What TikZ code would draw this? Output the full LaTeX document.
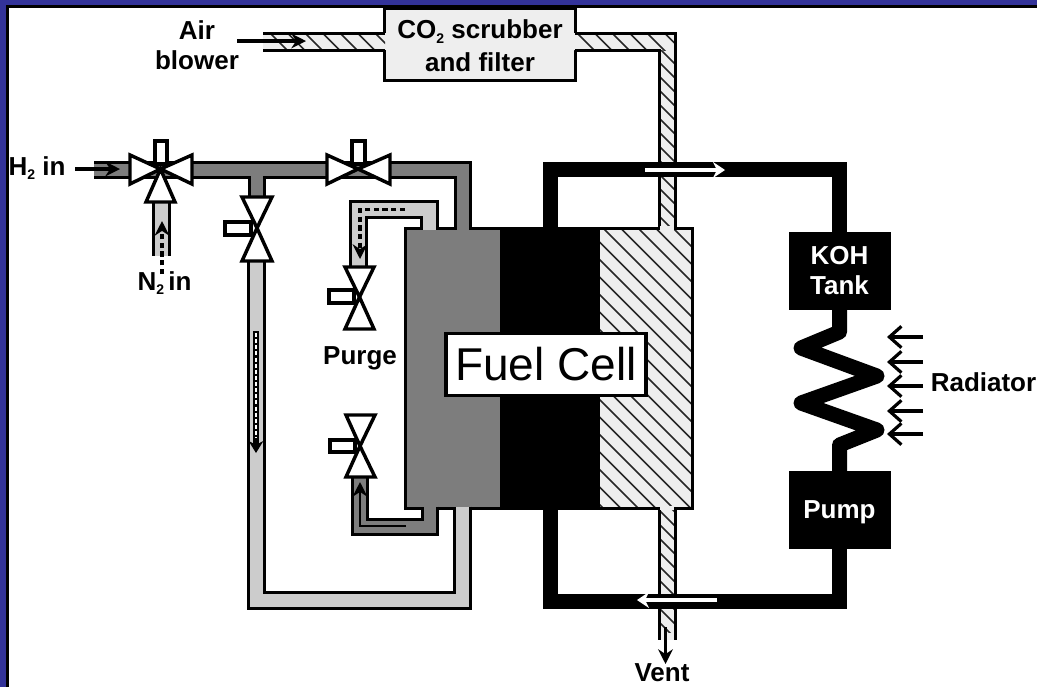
\documentclass[tikz,border=0pt]{standalone}
\usepackage{fontspec}
\setmainfont{Liberation Sans}
\usetikzlibrary{arrows.meta}
\definecolor{framecolor}{RGB}{51,51,153}
\definecolor{anodegray}{RGB}{125,125,125}
\definecolor{returngray}{RGB}{204,204,204}
\definecolor{hatchgray}{RGB}{238,238,238}
\newcommand{\subtwo}{\raisebox{-3.2pt}{\fontsize{10.5}{12}\selectfont 2}}
\tikzset{every picture/.style={line width=0.75pt},
  wall/.style={draw=black,line width=2.25pt},
  anodepipe/.style={wall,double=anodegray,double distance=9pt},
  returnpipe/.style={wall,double=returngray,double distance=9.75pt},
  koh/.style={draw=black,line width=11.25pt},
  valvepart/.style={draw=black,fill=white,line width=2.6pt,line join=miter},
  hatchline/.style={draw=black!85,line width=1.1pt},
  labeltext/.style={inner sep=0.75pt,align=center,font=\fontsize{19.5}{22.5}\selectfont\bfseries},
  kohbox/.style={fill=black,text=white,outer sep=0pt,minimum width=76.5pt,minimum height=58.5pt,inner sep=0pt,align=center,font=\fontsize{19.5}{22.5}\selectfont\bfseries},
  flow/.style={draw=black,line width=2.8pt,-{Stealth[length=11pt,width=11pt]}},
  dashflow/.style={flow,dash pattern=on 4pt off 2.5pt},
  whiteflow/.style={draw=white,line width=3.2pt,-{Stealth[length=9pt,width=12pt]}},
  airflow/.style={draw=black,line width=2.4pt,-{Straight Barb[length=9pt,width=16pt,line width=2.4pt]}}}
\begin{document}
\begin{tikzpicture}[x=0.75pt,y=0.75pt,yscale=-1,xscale=1]
\useasboundingbox (0,0) rectangle (1037,687);

%Shape: Frame
\fill [framecolor] (0,0) rectangle (1037,687);
\fill [white] (7,7) rectangle (1037,687);
\draw [line width=2.25pt] (7,687) -- (7,6.5) -- (1037,6.5);

%Shape: Scrubber box
\draw (480,44) node (scrubber) [draw=black,fill=hatchgray,line width=2.25pt,minimum width=143.25pt,minimum height=54pt,inner sep=0pt] {};

%Shape: Air pipe, hatch first
\fill [hatchgray] (263,33) rectangle (387,50);
\fill [hatchgray] (573,33) -- (675,33) -- (675,230) -- (659,230) -- (659,50) -- (573,50) -- cycle;
\fill [hatchgray] (659,506) rectangle (675,640);
\begin{scope}
\clip (263,33) rectangle (385,50);
\foreach \k in {0,...,8} \draw [hatchline] ({237+17.5*\k},0) -- ++(100,100);
\end{scope}
\begin{scope}
\clip (575,33) rectangle (675,50);
\foreach \k in {0,...,6} \draw [hatchline] ({544+17.5*\k},0) -- ++(100,100);
\end{scope}
\begin{scope}
\clip (659,50) rectangle (675,228);
\foreach \k in {0,...,13} \draw [hatchline] (659,{48+14*\k}) -- ++(30,30);
\end{scope}
\begin{scope}
\clip (659,508) rectangle (675,632);
\foreach \k in {0,...,9} \draw [hatchline] (659,{496+14*\k}) -- ++(30,30);
\end{scope}

%Straight Lines: Air pipe walls
\draw [wall] (263,33) -- (385,33);
\draw [wall] (263,50) -- (385,50);
\draw [wall] (575,33) -- (675,33) -- (675,229.5);
\draw [wall] (575,50) -- (659,50) -- (659,229.5);
\draw [wall] (659,506.5) -- (659,640);
\draw [wall] (675,506.5) -- (675,640);

%Shape: Fuel cell
\fill [anodegray] (405,228) rectangle (500,508);
\fill [black] (500,228) rectangle (600,508);
\fill [hatchgray] (600,228) rectangle (692,508);
\begin{scope}
\clip (600,228) rectangle (692,508);
\foreach \k in {0,...,22} \draw [hatchline] ({95+17.5*\k},0) -- ++(600,600);
\end{scope}
\draw [wall] (405,228) rectangle (692,508);
\fill [hatchgray] (660.2,226) rectangle (673.8,230.5);
\fill [hatchgray] (660.2,505.5) rectangle (673.8,510);

%Straight Lines: Hydrogen side pipes
\draw [anodepipe] (94,170) -- (462.5,170) -- (462.5,229.5) (256.5,170) -- (256.5,197);
\draw [returnpipe] (358.5,267) -- (358.5,209) -- (429.5,209) -- (429.5,229.5);
\draw [anodepipe] (429.5,506.5) -- (429.5,526.5) -- (359.5,526.5) -- (359.5,477);
\draw [returnpipe] (462.5,506.5) -- (462.5,600.5) -- (256.5,600.5) -- (256.5,262);
\draw [returnpipe] (161.5,202) -- (161.5,256);

%Shape: Radiator loop
\draw (839.5,271) node (tank) [kohbox] {KOH\\Tank};
\draw (839.5,510) node (pump) [kohbox] {\smash{\raisebox{-6pt}{Pump}}};
\draw [koh] (tank.north) -- (839.5,169.5) -- (550,169.5) -- (550,229);
\draw [koh] (pump.south) -- (839.5,601.5) -- (550,601.5) -- (550,507);
\draw [koh,line join=round] (tank.south) -- (839.5,332) -- (801,348) -- (877,376) -- (801,403) -- (877,430) -- (839.5,445) -- (pump.north);

%Shape: Valve H2 and N2
\draw [valvepart] (160.5,169) -- (130,155) -- (130,184) -- cycle;
\draw [valvepart] (160.5,169) -- (192,155) -- (192,184) -- cycle;
\draw [valvepart] (160.5,169) -- (146,202) -- (175,202) -- cycle;
\draw [valvepart] (155,141) rectangle (167,164);
%Shape: Valve cathode line
\draw [valvepart] (358,169) -- (327,155) -- (327,184) -- cycle;
\draw [valvepart] (358,169) -- (390,155) -- (390,184) -- cycle;
\draw [valvepart] (352,141) rectangle (365,164);
%Shape: Valve return line
\draw [valvepart] (257,228) -- (242,197) -- (272,197) -- cycle;
\draw [valvepart] (257,228) -- (242,261) -- (272,261) -- cycle;
\draw [valvepart] (225,222) rectangle (251,235);
%Shape: Valve purge upper
\draw [valvepart] (359.5,297) -- (345,267) -- (374,267) -- cycle;
\draw [valvepart] (359.5,297) -- (345,329) -- (374,329) -- cycle;
\draw [valvepart] (329,290) rectangle (354,303);
%Shape: Valve purge lower
\draw [valvepart] (360,446) -- (346,415) -- (375,415) -- cycle;
\draw [valvepart] (360,446) -- (346,477) -- (375,477) -- cycle;
\draw [valvepart] (330,440) rectangle (355,452);

%Straight Lines: Flow arrows
\draw [flow] (237,41) -- (306,41);
\draw [flow] (75,169) -- (120,169);
\draw [dashflow] (162,274) -- (162,221);
\draw [dashflow] (405,209.5) -- (360,209.5) -- (360,259);
\draw [flow,line width=2.2pt] (406,526) -- (360,526) -- (360,482);
\draw [flow] (665.5,627) -- (665.5,664);
\draw [whiteflow] (645,170) -- (725,170);
\draw [whiteflow] (717,600) -- (637,600);
\draw [flow,line width=4pt,-{Stealth[length=9pt,width=11pt]}] (256,331) -- (256,453);
\draw [draw=white,line width=2.2pt,dash pattern=on 3pt off 1.6pt] (256,333) -- (256,438);
\foreach \ypos in {337,362,386,411,434} \draw [airflow] (923,\ypos) -- (887,\ypos);

% Text Node
\draw (480,46) node (scrubbername) [labeltext] {CO\subtwo{} scrubber\\[2pt]and filter};
% Text Node
\draw (197,45) node (airname) [labeltext] {Air\\blower};
% Text Node
\draw (37,168) node (hname) [labeltext] {H\subtwo{} in};
% Text Node
\draw (164.5,283) node (nname) [labeltext] {N\subtwo{}\,in};
% Text Node
\draw (360,358) node (purgename) [labeltext] {Purge};
% Text Node
\draw (983.5,382) node (radiatorname) [labeltext] {Radiator};
% Text Node
\draw (662,673) node (ventname) [labeltext] {Vent};
% Text Node
\draw (546,364.5) node (cellname) [draw=black,fill=white,line width=2.4pt,minimum width=150pt,minimum height=46pt,inner sep=0pt,font=\fontsize{34.5}{40}\selectfont] {Fuel Cell};

\end{tikzpicture}
\end{document}
